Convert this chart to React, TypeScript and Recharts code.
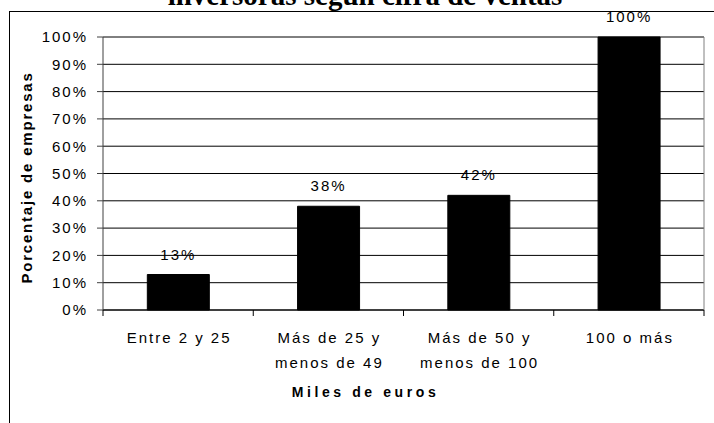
import React from "react";
import {
  BarChart,
  Bar,
  XAxis,
  YAxis,
  CartesianGrid,
  LabelList,
} from "recharts";

const categories = [
  "Entre 2 y 25",
  "Más de 25 y\nmenos de 49",
  "Más de 50 y\nmenos de 100",
  "100 o más",
];
const values = [13, 38, 42, 100];
const yTicks = [0, 10, 20, 30, 40, 50, 60, 70, 80, 90, 100];

const title = "inversoras según cifra de ventas";
const yTitle = "Porcentaje de empresas";
const xTitle = "Miles de euros";

const sans = "'Liberation Sans', Arial, sans-serif";
const serif = "'Liberation Serif', 'Times New Roman', serif";

const data = categories.map((c, i) => ({ category: c, value: values[i] }));

// category labels may wrap on two lines; tick marks go between categories
function CategoryTick(props: any) {
  const { x, y, payload, width, visibleTicksCount, index } = props;
  const band =
    payload?.offset > 0 ? payload.offset * 2 : width / (visibleTicksCount || 4);
  const lines = String(payload?.value ?? "").split("\n");
  const left = x - band / 2;
  const right = x + band / 2;
  return (
    <g>
      <line x1={left} x2={left} y1={y} y2={y + 6} stroke="#000" />
      {index === (visibleTicksCount || 4) - 1 && (
        <line x1={right} x2={right} y1={y} y2={y + 6} stroke="#000" />
      )}
      <text
        x={x}
        y={y}
        textAnchor="middle"
        fill="#000"
        fontFamily={sans}
        fontSize={15}
        letterSpacing={2}
      >
        {lines.map((l, i) => (
          <tspan key={i} x={x + 1} dy={i === 0 ? 33 : 25}>
            {l}
          </tspan>
        ))}
      </text>
    </g>
  );
}

function XTitle({ viewBox }: any) {
  const { x, width } = viewBox;
  return (
    <text
      x={x + width / 2 - 38}
      y={397}
      textAnchor="middle"
      fill="#000"
      fontFamily={sans}
      fontSize={14}
      fontWeight={700}
      letterSpacing={3.6}
    >
      {xTitle}
    </text>
  );
}

function YTitle({ viewBox }: any) {
  const { x, y, height } = viewBox;
  const cx = x + 26;
  const cy = y + height / 2 + 4;
  return (
    <text
      x={cx}
      y={cy}
      transform={`rotate(-90 ${cx} ${cy})`}
      textAnchor="middle"
      dominantBaseline="central"
      fill="#000"
      fontFamily={sans}
      fontSize={15}
      fontWeight={700}
      letterSpacing={1.8}
    >
      {yTitle}
    </text>
  );
}

export default function App() {
  return (
    <div
      style={{
        position: "absolute",
        left: 0,
        top: 0,
        width: 714,
        height: 423,
        overflow: "hidden",
        background: "#fff",
      }}
    >
      <div style={{ position: "absolute", left: 0, top: 0 }}>
        <BarChart
          width={714}
          height={423}
          data={data}
          margin={{ top: 37, right: 9, bottom: 0, left: 0 }}
          barCategoryGap="29.5%"
        >
          <CartesianGrid vertical={false} stroke="#000" />
          <XAxis
            dataKey="category"
            interval={0}
            tick={<CategoryTick />}
            tickLine={false}
            axisLine={{ stroke: "#000" }}
            tickSize={0}
            tickMargin={0}
            height={113}
            label={<XTitle />}
          />
          <YAxis
            domain={[0, 100]}
            ticks={yTicks}
            interval={0}
            tickFormatter={(v: number) => `${v}%`}
            width={103}
            tickSize={6}
            tickMargin={9}
            axisLine={{ stroke: "#404040" }}
            tickLine={{ stroke: "#404040" }}
            tick={{ fill: "#000", fontSize: 15, fontFamily: sans, letterSpacing: 2 }}
            label={<YTitle />}
          />
          <YAxis
            yAxisId="right"
            orientation="right"
            domain={[0, 100]}
            width={1}
            tick={false}
            tickLine={false}
            axisLine={{ stroke: "#808080" }}
          />
          <Bar dataKey="value" fill="#000" stroke="#000" isAnimationActive={false}>
            <LabelList
              dataKey="value"
              position="top"
              offset={15}
              formatter={(v: any) => `${v}%`}
              fill="#000"
              fontSize={15}
              fontFamily={sans}
              letterSpacing={2}
            />
          </Bar>
        </BarChart>
      </div>
      {/* title (cut at the top edge) and outer frame */}
      <svg
        width={714}
        height={423}
        style={{ position: "absolute", left: 0, top: 0, pointerEvents: "none" }}
      >
        <text
          x={365}
          y={5}
          textAnchor="middle"
          fontFamily={serif}
          fontSize={29}
          fontWeight={700}
          fill="#000"
        >
          {title}
        </text>
        <rect x={9.5} y={11.5} width={800} height={600} fill="none" stroke="#000" />
      </svg>
    </div>
  );
}
